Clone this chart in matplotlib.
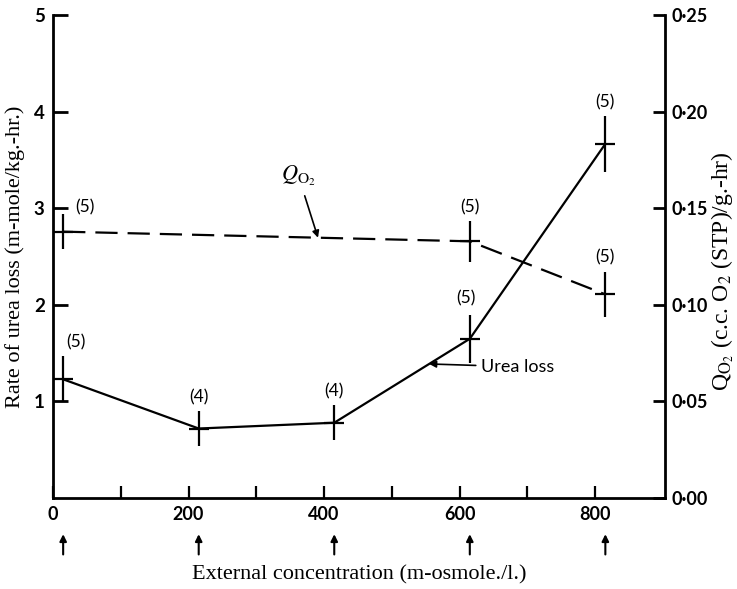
import numpy as np
import matplotlib
matplotlib.use('Agg')
import matplotlib.pyplot as plt
import matplotlib.transforms as mtransforms
from matplotlib.ticker import FixedLocator, FuncFormatter

plt.rcParams['mathtext.fontset'] = 'stix'

# 数据
conc = [15, 215, 415, 615, 815]
urea_loss = [1.23, 0.72, 0.78, 1.65, 3.67]
urea_err = [0.24, 0.18, 0.18, 0.25, 0.29]
urea_n = [5, 4, 4, 5, 5]

qo2_conc = [15, 615, 815]
qo2 = [0.138, 0.133, 0.1055]
qo2_err = [0.009, 0.0105, 0.0115]
qo2_n = [5, 5, 5]

x_ticks = [0, 200, 400, 600, 800]
x_minor = [100, 300, 500, 700]
left_ticks = [1, 2, 3, 4, 5]
right_ticks = [0.00, 0.05, 0.10, 0.15, 0.20, 0.25]

SANS = 'Lato'
SERIF = 'Liberation Serif'
LW = 1.6

# 标注 (n) 的偏移（points）
urea_n_offsets = [(9, 10), (0, 10), (0, 10), (-3, 12), (0, 10)]
qo2_n_offsets = [(16, 5), (0, 10), (0, 11)]

fig = plt.figure(figsize=(7.37, 5.89), dpi=100)
ax = fig.add_axes([0.0719, 0.1545, 0.8304, 0.8192])
ax2 = ax.twinx()

ax.set_xlim(0, 903)
ax.set_ylim(0, 5)
ax2.set_ylim(0, 0.25)

for s in ['top', 'right']:
    ax.spines[s].set_visible(False)
for s in ['top', 'left', 'bottom']:
    ax2.spines[s].set_visible(False)
for s in ['left', 'bottom']:
    ax.spines[s].set_linewidth(2)
ax2.spines['right'].set_linewidth(2)

# 尿素损失（实线）
ax.errorbar(conc, urea_loss, yerr=urea_err, color='black', lw=LW,
            elinewidth=LW, capsize=0, marker='_', ms=15, mew=LW)
# QO2（虚线）
ax2.errorbar(qo2_conc, qo2, yerr=qo2_err, color='black', lw=LW,
             ls=(0, (10, 4.5)), elinewidth=LW, capsize=0, marker='_',
             ms=15, mew=LW)

for x, y, e, n, off in zip(conc, urea_loss, urea_err, urea_n, urea_n_offsets):
    ax.annotate(f'({n})', xy=(x, y + e), xytext=off, textcoords='offset points',
                ha='center', va='center', fontsize=12.5, fontfamily=SANS)
for x, y, e, n, off in zip(qo2_conc, qo2, qo2_err, qo2_n, qo2_n_offsets):
    ax2.annotate(f'({n})', xy=(x, y + e), xytext=off, textcoords='offset points',
                 ha='center', va='center', fontsize=12.5, fontfamily=SANS)

# 曲线名称及箭头
tip_x = 555
ax.annotate('Urea loss', xy=(tip_x, np.interp(tip_x, conc, urea_loss)),
            xytext=(632, 1.36), ha='left', va='center', fontsize=13,
            fontfamily=SANS,
            arrowprops=dict(arrowstyle='-|>', color='black', lw=1.2,
                            mutation_scale=10, shrinkA=2, shrinkB=0))
q_tip = 391
ax2.annotate(r'$Q_{\mathrm{O}_2}$', xy=(q_tip, np.interp(q_tip, qo2_conc, qo2)),
             xytext=(362, 0.167), ha='center', va='center', fontsize=16,
             arrowprops=dict(arrowstyle='-|>', color='black', lw=1.2,
                             mutation_scale=10, shrinkA=4, shrinkB=0))

# 坐标轴下方的箭头
trans = mtransforms.blended_transform_factory(ax.transData, ax.transAxes)
for x in conc:
    ax.annotate('', xy=(x, -0.075), xytext=(x, -0.117), xycoords=trans,
                textcoords=trans, annotation_clip=False,
                arrowprops=dict(arrowstyle='-|>', color='black', lw=1.5,
                                mutation_scale=10, shrinkA=0, shrinkB=0))

# 刻度
ax.xaxis.set_major_locator(FixedLocator(x_ticks))
ax.xaxis.set_minor_locator(FixedLocator(x_minor))
ax.yaxis.set_major_locator(FixedLocator(left_ticks))
ax2.yaxis.set_major_locator(FixedLocator(right_ticks))
ax2.yaxis.set_major_formatter(FuncFormatter(lambda v, p: f'{v:.2f}'.replace('.', '\u00b7')))

ax.tick_params(axis='x', which='both', direction='in', length=9, width=1.6,
               pad=6, labelsize=13)
ax.tick_params(axis='y', direction='in', length=11, width=2, pad=6,
               labelsize=13.5)
ax2.tick_params(axis='y', direction='in', length=9, width=2, pad=5,
                labelsize=13)
for lab in ax.get_xticklabels() + ax.get_yticklabels() + ax2.get_yticklabels():
    lab.set_fontfamily(SANS)
    lab.set_fontweight('bold')

ax.set_xlabel('External concentration (m-osmole./l.)', fontfamily=SERIF,
              fontsize=16)
ax.xaxis.set_label_coords(0.5, -0.14)
ax.set_ylabel('Rate of urea loss (m-mole/kg.-hr.)', fontfamily=SERIF,
              fontsize=16)
ax.yaxis.set_label_coords(-0.045, 0.5)
ax2.set_ylabel(r'Q$_{\mathrm{O}_2}$ (c.c. O$_2$ (STP)/g.-hr)', fontfamily=SERIF,
               fontsize=17, rotation=90, va='top')
ax2.yaxis.set_label_coords(1.072, 0.47)

fig.savefig('out.png', dpi=100)
